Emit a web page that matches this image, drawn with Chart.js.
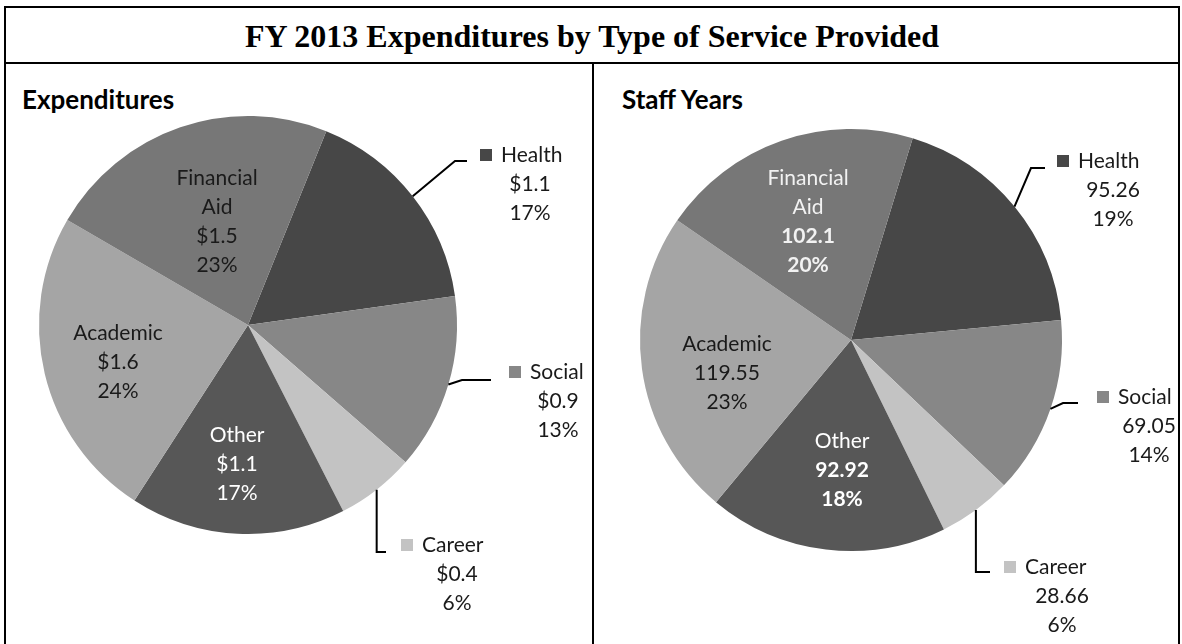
<!DOCTYPE html>
<html>
<head>
<meta charset="utf-8">
<script src="https://cdn.jsdelivr.net/npm/chart.js@4.4.1/dist/chart.umd.min.js"></script>
<style>
  body { margin: 0; width: 1182px; height: 644px; overflow: hidden; background: #fff; position: relative; }
  .ln { position: absolute; background: #000; }
  #title { position: absolute; left: 4px; top: 8px; width: 1176px; height: 54px;
           text-align: center; font: bold 32px "Liberation Serif", "Times New Roman", serif; line-height: 56px; color: #000; }
  .ptitle { position: absolute; top: 83px; font: bold 26px Lato, sans-serif; color: #000; }
  canvas { position: absolute; top: 0; }
</style>
</head>
<body>
<div class="ln" style="left:4px;top:6px;width:1176px;height:2px"></div>
<div class="ln" style="left:4px;top:6px;width:2px;height:700px"></div>
<div class="ln" style="left:1178px;top:6px;width:2px;height:700px"></div>
<div class="ln" style="left:4px;top:62px;width:1176px;height:2px"></div>
<div class="ln" style="left:592px;top:62px;width:2px;height:700px"></div>
<div id="title">FY 2013 Expenditures by Type of Service Provided</div>
<div class="ptitle" style="left:22px">Expenditures</div>
<div class="ptitle" style="left:622px">Staff Years</div>
<canvas id="exp" width="594" height="644" style="left:0"></canvas>
<canvas id="staff" width="588" height="644" style="left:594px"></canvas>
<script>
// ── data ─────────────────────────────────────────────
const categories = ['Health', 'Social', 'Career', 'Other', 'Academic', 'Financial Aid'];
const expValues = [1.1, 0.9, 0.4, 1.1, 1.6, 1.5];        // $ millions
const expPct = [17, 13, 6, 17, 24, 23];
const staffValues = [95.26, 69.05, 28.66, 92.92, 119.55, 102.1];
const staffPct = [19, 14, 6, 18, 23, 20];

const sliceColors = ['#474747', '#878787', '#c3c3c3', '#575757', '#a5a5a5', '#777777'];
const FONT = 'Lato, sans-serif';
const LH = 29;

// label placement, offsets from the pie centre
const expLayout = {
  'Health':        { out: true, kx: 232, ty: -170, tx: 282, elbow: [207, -164], end: [219, -164] },
  'Social':        { out: true, kx: 261, ty: 47,  tx: 310, elbow: [214, 55],   end: [243, 55] },
  'Career':        { out: true, kx: 153, ty: 220, tx: 209, vert: true, elbow: [0, 227], end: [138, 227] },
  'Other':         { tx: -11, ty: 110, color: '#fff' },
  'Academic':      { tx: -130, ty: 8, color: '#1a1a1a' },
  'Financial Aid': { tx: -31, ty: -147, color: '#1a1a1a', wrap: true }
};
const staffLayout = {
  'Health':        { out: true, kx: 206, ty: -179, tx: 262, elbow: [180, -172], end: [194, -172] },
  'Social':        { out: true, kx: 246, ty: 57,  tx: 298, elbow: [212, 63],   end: [227, 63] },
  'Career':        { out: true, kx: 153, ty: 227, tx: 211, vert: true, elbow: [0, 232], end: [139, 232] },
  'Other':         { tx: -9, ty: 101, color: '#fff', boldVals: true },
  'Academic':      { tx: -124, ty: 4, color: '#1a1a1a' },
  'Financial Aid': { tx: -43, ty: -162, color: '#f2f2f2', wrap: true, boldVals: true }
};

// ── label plugin ─────────────────────────────────────
const sliceLabels = {
  id: 'sliceLabels',
  afterDatasetsDraw(chart, args, o) {
    const ctx = chart.ctx;
    const arcs = chart.getDatasetMeta(0).data;
    const vals = chart.data.datasets[0].data;
    ctx.save();
    ctx.textBaseline = 'middle';
    arcs.forEach((arc, i) => {
      const name = chart.data.labels[i];
      const L = o.layout[name];
      const p = arc.getProps(['x', 'y', 'startAngle', 'endAngle', 'outerRadius'], true);
      const cx = p.x, cy = p.y;
      const valTxt = o.fmt(vals[i]);
      const pctTxt = o.pct[i] + '%';
      if (L.out) {
        const mid = (p.startAngle + p.endAngle) / 2;
        const ax = cx + Math.cos(mid) * p.outerRadius;
        const ay = cy + Math.sin(mid) * p.outerRadius;
        const bx = L.vert ? ax : cx + L.elbow[0];
        const by = cy + L.elbow[1];
        ctx.strokeStyle = '#000';
        ctx.lineWidth = 2;
        ctx.beginPath();
        ctx.moveTo(ax, ay);
        ctx.lineTo(bx, by);
        ctx.lineTo(cx + L.end[0], cy + L.end[1]);
        ctx.stroke();
        // legend key + name
        ctx.fillStyle = chart.data.datasets[0].backgroundColor[i];
        ctx.fillRect(cx + L.kx, cy + L.ty - 6, 12, 12);
        ctx.fillStyle = '#1a1a1a';
        ctx.font = '21px ' + FONT;
        ctx.textAlign = 'left';
        ctx.fillText(name, cx + L.kx + 21, cy + L.ty);
        ctx.textAlign = 'center';
        ctx.fillText(valTxt, cx + L.tx, cy + L.ty + LH);
        ctx.fillText(pctTxt, cx + L.tx, cy + L.ty + LH * 2);
      } else {
        const names = L.wrap ? name.split(' ') : [name];
        ctx.fillStyle = L.color;
        ctx.textAlign = 'center';
        let y = cy + L.ty;
        ctx.font = '21px ' + FONT;
        names.forEach(n => { ctx.fillText(n, cx + L.tx, y); y += LH; });
        ctx.font = (L.boldVals ? 'bold ' : '') + '21px ' + FONT;
        ctx.fillText(valTxt, cx + L.tx, y); y += LH;
        ctx.fillText(pctTxt, cx + L.tx, y);
      }
    });
    ctx.restore();
  }
};

function makePie(id, values, pct, layout, fmt, rotation, padding) {
  return new Chart(document.getElementById(id), {
    type: 'pie',
    data: {
      labels: categories,
      datasets: [{ data: values, backgroundColor: sliceColors, borderWidth: 0 }]
    },
    options: {
      responsive: false,
      animation: false,
      rotation,
      layout: { padding },
      plugins: {
        legend: { display: false },
        tooltip: { enabled: false },
        sliceLabels: { layout, pct, fmt }
      }
    },
    plugins: [sliceLabels]
  });
}

makePie('exp', expValues, expPct, expLayout, v => '$' + v.toFixed(1), 22,
  { left: 39, top: 116, right: 137, bottom: 110 });
makePie('staff', staffValues, staffPct, staffLayout, v => String(v), 17,
  { left: 46, top: 129, right: 120, bottom: 93 });
</script>
</body>
</html>
